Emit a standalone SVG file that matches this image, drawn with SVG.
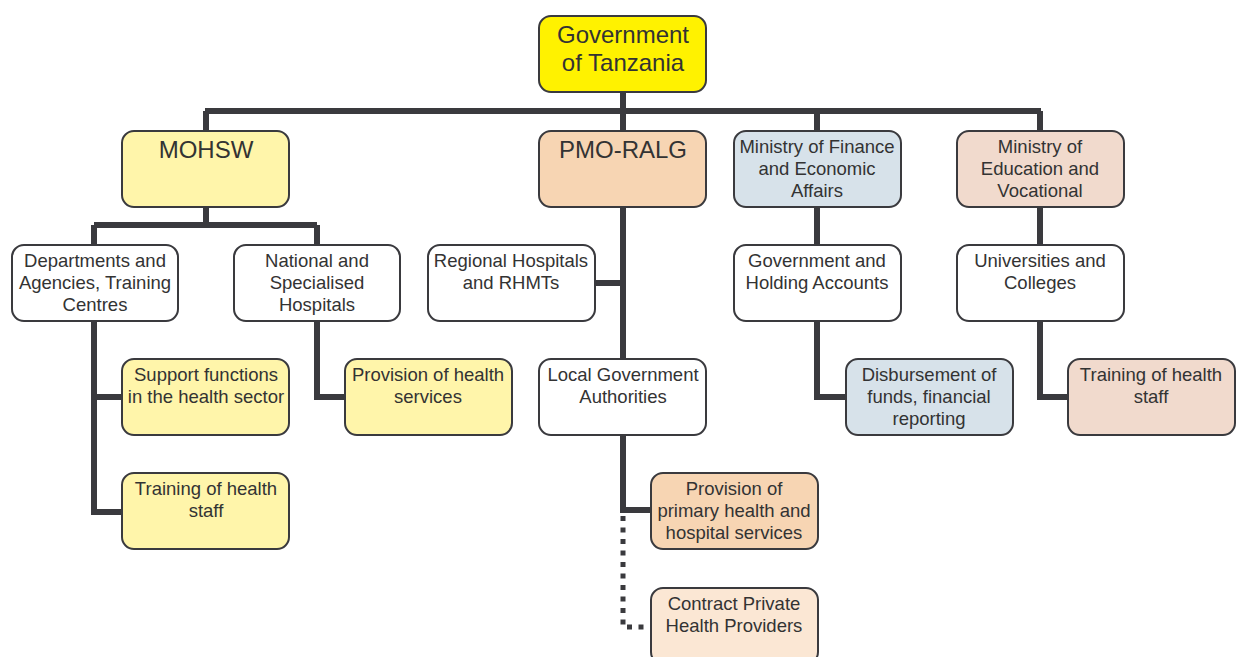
<svg xmlns="http://www.w3.org/2000/svg" width="1239" height="657" viewBox="0 0 1239 657">
<style>
.b{stroke:#3a3a3e;stroke-width:2;}
.w{fill:#ffffff}.y{fill:#fff5aa}.o{fill:#f7d5b3}.bl{fill:#d7e2ea}.p{fill:#f1dacd}.g{fill:#fff200}.c{fill:#fbe7d4}
text{font-family:"Liberation Sans",Arial,sans-serif;font-size:18.5px;fill:#333;text-anchor:middle}
.big{font-size:24px}
.ln{fill:none;stroke:#3a3a3e;stroke-width:6}
.dot{fill:none;stroke:#3a3a3e;stroke-width:5;stroke-dasharray:5 6.5}
</style>
<rect width="1239" height="657" fill="#ffffff"/>
<g id="connectors">
<path class="ln" d="M623,92 V359 M205,111 H1041 M206,111 V131 M817,111 V131 M1040,111 V131"/>
<path class="ln" d="M206,207 V225 M94,225 H317 M94,225 V245 M317,225 V245"/>
<path class="ln" d="M94,321 V512 H123 M94,397 H123 M317,321 V397 H345"/>
<path class="ln" d="M595,283 H623"/>
<path class="ln" d="M623,435 V510 H651"/>
<path class="dot" d="M623,516 V627 H651"/>
<path class="ln" d="M817,207 V245 M817,321 V397 H846 M1040,207 V245 M1040,321 V397 H1068"/>
</g>
<g id="gov"><rect class="b g" x="539" y="16" width="167" height="76" rx="12"/><text class="big" x="623" y="43">Government</text><text class="big" x="623" y="71">of Tanzania</text></g>
<g id="mohsw"><rect class="b y" x="122" y="131" width="167" height="76" rx="12"/><text class="big" x="206" y="158">MOHSW</text></g>
<g id="pmo"><rect class="b o" x="539" y="131" width="167" height="76" rx="12"/><text class="big" x="623" y="158">PMO-RALG</text></g>
<g id="mof"><rect class="b bl" x="734" y="131" width="167" height="76" rx="12"/><text x="817" y="153">Ministry of Finance</text><text x="817" y="175">and Economic</text><text x="817" y="197">Affairs</text></g>
<g id="moe"><rect class="b p" x="957" y="131" width="167" height="76" rx="12"/><text x="1040" y="153">Ministry of</text><text x="1040" y="175">Education and</text><text x="1040" y="197">Vocational</text></g>
<g id="dept"><rect class="b w" x="12" y="245" width="166" height="76" rx="12"/><text x="95" y="267">Departments and</text><text x="95" y="289">Agencies, Training</text><text x="95" y="311">Centres</text></g>
<g id="national"><rect class="b w" x="234" y="245" width="166" height="76" rx="12"/><text x="317" y="267">National and</text><text x="317" y="289">Specialised</text><text x="317" y="311">Hospitals</text></g>
<g id="regional"><rect class="b w" x="428" y="245" width="167" height="76" rx="12"/><text x="511" y="267">Regional Hospitals</text><text x="511" y="289">and RHMTs</text></g>
<g id="govacc"><rect class="b w" x="734" y="245" width="167" height="76" rx="12"/><text x="817" y="267">Government and</text><text x="817" y="289">Holding Accounts</text></g>
<g id="univ"><rect class="b w" x="957" y="245" width="167" height="76" rx="12"/><text x="1040" y="267">Universities and</text><text x="1040" y="289">Colleges</text></g>
<g id="support"><rect class="b y" x="122" y="359" width="167" height="76" rx="12"/><text x="206" y="381">Support functions</text><text x="206" y="403">in the health sector</text></g>
<g id="provhealth"><rect class="b y" x="345" y="359" width="167" height="76" rx="12"/><text x="428" y="381">Provision of health</text><text x="428" y="403">services</text></g>
<g id="lga"><rect class="b w" x="539" y="359" width="167" height="76" rx="12"/><text x="623" y="381">Local Government</text><text x="623" y="403">Authorities</text></g>
<g id="disb"><rect class="b bl" x="846" y="359" width="167" height="76" rx="12"/><text x="929" y="381">Disbursement of</text><text x="929" y="403">funds, financial</text><text x="929" y="425">reporting</text></g>
<g id="trainmoe"><rect class="b p" x="1068" y="359" width="167" height="76" rx="12"/><text x="1151" y="381">Training of health</text><text x="1151" y="403">staff</text></g>
<g id="trainmohsw"><rect class="b y" x="122" y="473" width="167" height="76" rx="12"/><text x="206" y="495">Training of health</text><text x="206" y="517">staff</text></g>
<g id="primary"><rect class="b o" x="651" y="473" width="167" height="76" rx="12"/><text x="734" y="495">Provision of</text><text x="734" y="517">primary health and</text><text x="734" y="539">hospital services</text></g>
<g id="contract"><rect class="b c" x="651" y="588" width="167" height="76" rx="12"/><text x="734" y="610">Contract Private</text><text x="734" y="632">Health Providers</text></g>
</svg>
